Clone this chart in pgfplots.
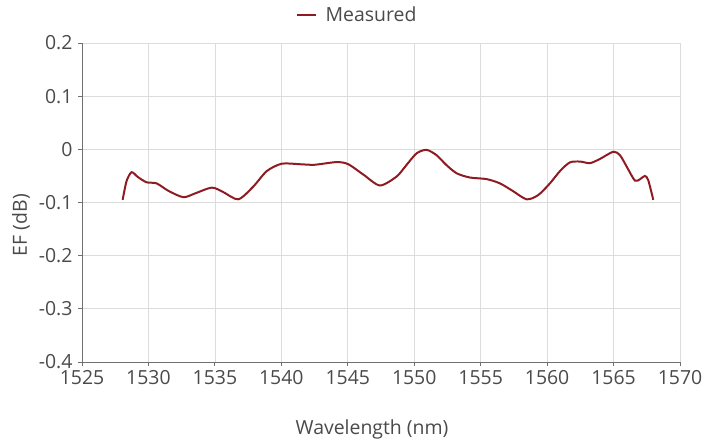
\documentclass[border=0pt]{standalone}
\usepackage{pgfplots}
\pgfplotsset{compat=1.18}
\usepackage{fontspec}
\setmainfont{Open Sans}
\definecolor{txt}{HTML}{4A4A4A}
\definecolor{spine}{HTML}{707070}
\definecolor{gridc}{HTML}{DCDCDC}
\definecolor{meas}{HTML}{8E1B22}
\begin{document}
\begin{tikzpicture}
\begin{axis}[
  scale only axis,
  width=598bp, height=319bp,
  xmin=1525, xmax=1570, ymin=-0.4, ymax=0.2,
  xtick={1525,1530,...,1570},
  ytick={-0.4,-0.3,...,0.2},
  axis x line*=bottom, axis y line*=left,
  axis line style={spine, line width=0.9pt},
  x axis line style={-}, y axis line style={-},
  grid=major, major grid style={gridc, line width=0.7pt},
  tick style={spine, line width=0.9pt},
  tick align=outside, major tick length=4bp,
  ticklabel style={font=\fontsize{19.5}{22}\selectfont, text=txt},
  /pgf/number format/assume math mode=true,
  /pgf/number format/fixed,
  /pgf/number format/precision=1,
  xticklabel style={/pgf/number format/1000 sep={}, yshift=-1bp},
  yticklabel style={xshift=-2bp},
  xlabel={Wavelength (nm)}, ylabel={EF (dB)},
  label style={font=\fontsize{19.5}{22}\selectfont, text=txt},
  x label style={at={(axis description cs:0.485,-0.213)}, anchor=center},
  y label style={at={(axis description cs:-0.102,0.429)}, anchor=center},
  legend style={at={(axis description cs:0.46,1.088)}, anchor=center, draw=none, fill=none,
    font=\fontsize{19.5}{22}\selectfont, text=txt, legend columns=1},
  legend image code/.code={\draw[#1, line width=2pt] (0bp,0bp) -- (19bp,0bp);},
]
\addplot[meas, line width=2pt, smooth, tension=0.45] coordinates {
(1528.06,-0.095) (1528.35,-0.060) (1528.73,-0.043) (1529.2,-0.052) (1529.86,-0.062)
(1530.61,-0.064) (1531.5,-0.078) (1532.62,-0.090) (1533.5,-0.083) (1534.76,-0.072)
(1535.6,-0.080) (1536.76,-0.094) (1537.89,-0.070) (1538.90,-0.041) (1540.03,-0.027)
(1541.40,-0.028) (1542.5,-0.029) (1544.16,-0.024) (1545.04,-0.028) (1546.2,-0.048)
(1547.42,-0.068) (1548.68,-0.051) (1549.4,-0.030) (1550.18,-0.0075) (1550.93,-0.001)
(1551.68,-0.011) (1552.4,-0.029) (1553.19,-0.045) (1554.19,-0.053) (1555.45,-0.056)
(1556.45,-0.064) (1557.4,-0.078) (1558.46,-0.094) (1559.33,-0.086) (1560.21,-0.064)
(1561.0,-0.040) (1561.72,-0.0245) (1562.5,-0.023) (1563.22,-0.026) (1563.98,-0.018)
(1564.98,-0.0045) (1565.48,-0.011) (1566.0,-0.033) (1566.61,-0.059) (1567.0,-0.056)
(1567.36,-0.050) (1567.61,-0.058) (1567.99,-0.095)
};
\addlegendentry{\hspace{7bp}Measured}
\end{axis}
\useasboundingbox (current axis.south west) ++(-82bp,-80bp) rectangle ++(726bp,442bp);
\end{tikzpicture}
\end{document}
